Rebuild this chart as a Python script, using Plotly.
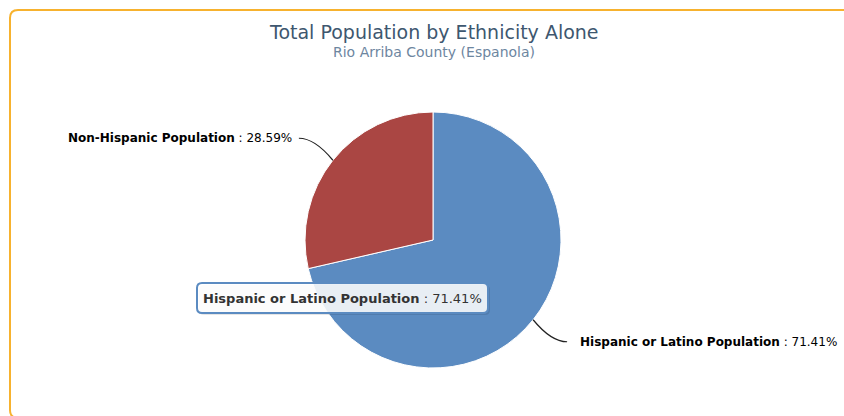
import math
import plotly.graph_objects as go

# ---- data ----
categories = ["Hispanic or Latino Population", "Non-Hispanic Population"]
values = [71.41, 28.59]
colors = ["#5B8BC1", "#AA4643"]
title = "Total Population by Ethnicity Alone"
subtitle = "Rio Arriba County (Espanola)"
tooltip_index = 0

W, H = 844, 416
CX, CY, R = 433, 240, 128  # pie centre / radius in px


def px(x):
    return x / W


def py(y):
    return 1 - y / H


fig = go.Figure()
fig.add_trace(go.Pie(
    labels=categories, values=values, sort=False, direction="clockwise",
    rotation=0, marker=dict(colors=colors, line=dict(color="white", width=1)),
    textinfo="none", hoverinfo="none",
    domain=dict(x=[px(CX - R), px(CX + R)], y=[py(CY + R), py(CY - R)]),
    showlegend=False,
))

shapes = []
annotations = []
FONT = "DejaVu Sans"

# data labels with soft connectors
total = sum(values)
cum = 0
for name, v in zip(categories, values):
    mid = (cum + v / 2) / total
    cum += v
    th = 2 * math.pi * mid
    dx, dy = math.sin(th), -math.cos(th)  # screen coords (y down)
    ex, ey = CX + R * dx, CY + R * dy
    sx = 1 if dx >= 0 else -1
    sy = 1 if dy >= 0 else -1
    endx, endy = ex + sx * 34, ey + sy * 22
    ctrlx, ctrly = ex + sx * 18, endy
    shapes.append(dict(
        type="path", xref="paper", yref="paper",
        path=f"M {px(ex)} {py(ey)} Q {px(ctrlx)} {py(ctrly)} {px(endx)} {py(endy)}",
        line=dict(color="#222222", width=1.2), layer="above"))
    gap = 11 if sx > 0 else 5
    annotations.append(dict(
        x=px(endx + sx * gap), y=py(endy), xref="paper", yref="paper",
        text=f"<b>{name}</b> : {v:.2f}%", showarrow=False,
        xanchor="left" if sx > 0 else "right", yanchor="middle",
        font=dict(family=FONT, size=12, color="#000000")))

# tooltip
tx0, ty0, tx1, ty1, rr = 197, 283, 488, 313, 5


def rounded(x0, y0, x1, y1, r):
    return (f"M {px(x0 + r)} {py(y0)} L {px(x1 - r)} {py(y0)} "
            f"Q {px(x1)} {py(y0)} {px(x1)} {py(y0 + r)} L {px(x1)} {py(y1 - r)} "
            f"Q {px(x1)} {py(y1)} {px(x1 - r)} {py(y1)} L {px(x0 + r)} {py(y1)} "
            f"Q {px(x0)} {py(y1)} {px(x0)} {py(y1 - r)} L {px(x0)} {py(y0 + r)} "
            f"Q {px(x0)} {py(y0)} {px(x0 + r)} {py(y0)} Z")


shapes.append(dict(type="path", xref="paper", yref="paper",
                   path=rounded(tx0 + 2, ty0 + 2, tx1 + 2, ty1 + 2, rr),
                   fillcolor="rgba(0,0,0,0.10)", line=dict(width=0), layer="above"))
shapes.append(dict(type="path", xref="paper", yref="paper",
                   path=rounded(tx0, ty0, tx1, ty1, rr),
                   fillcolor="rgba(255,255,255,0.87)",
                   line=dict(color=colors[tooltip_index], width=2), layer="above"))
annotations.append(dict(
    x=px((tx0 + tx1) / 2), y=py((ty0 + ty1) / 2), xref="paper", yref="paper",
    text=f"<b>{categories[tooltip_index]}</b> : {values[tooltip_index]:.2f}%",
    showarrow=False, xanchor="center", yanchor="middle",
    font=dict(family=FONT, size=13, color="#333333")))

# outer orange rounded border (extends past right/bottom)
b = 8
shapes.append(dict(
    type="path", xref="paper", yref="paper",
    path=(f"M {px(W + 20)} {py(10)} L {px(10 + b)} {py(10)} Q {px(10)} {py(10)} {px(10)} {py(10 + b)} "
          f"L {px(10)} {py(418 - b)} Q {px(10)} {py(418)} {px(10 + b)} {py(418)} L {px(W + 20)} {py(418)}"),
    line=dict(color="#F7B22E", width=2), layer="above"))

# titles
annotations.append(dict(x=px(434), y=py(32), xref="paper", yref="paper", text=title,
                        showarrow=False, xanchor="center", yanchor="middle",
                        font=dict(family=FONT, size=19, color="#3E576F")))
annotations.append(dict(x=px(434), y=py(52), xref="paper", yref="paper", text=subtitle,
                        showarrow=False, xanchor="center", yanchor="middle",
                        font=dict(family=FONT, size=14, color="#6D869F")))

fig.update_layout(
    width=W, height=H, margin=dict(l=0, r=0, t=0, b=0),
    paper_bgcolor="white", plot_bgcolor="white",
    shapes=shapes, annotations=annotations, showlegend=False,
)
fig.write_html("out.html", config={"displayModeBar": False})
